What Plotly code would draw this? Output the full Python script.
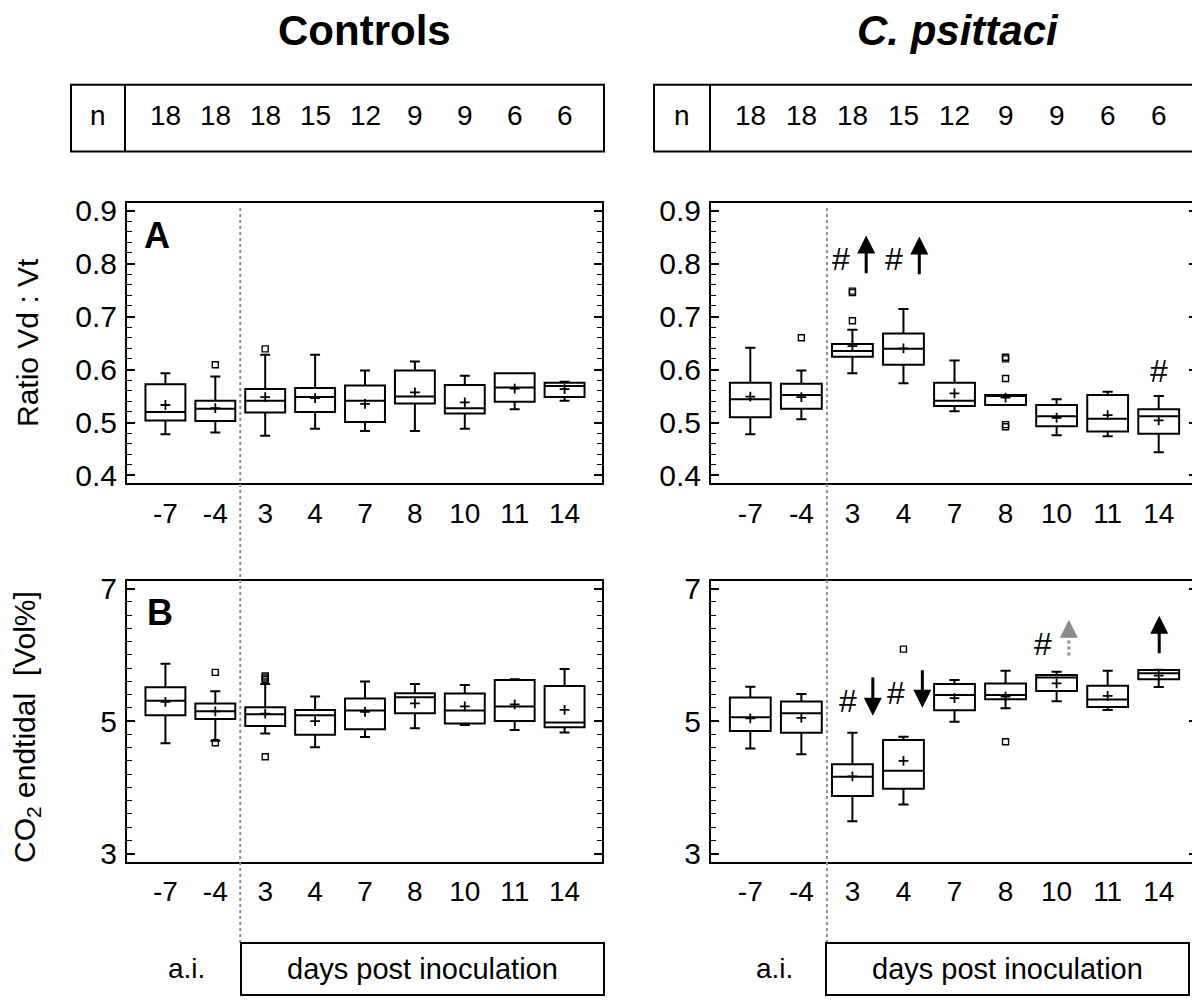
import plotly.graph_objects as go

# ------------------ data ------------------
cat_labels = ["-7", "-4", "3", "4", "7", "8", "10", "11", "14"]
n_ctrl = [18, 18, 18, 15, 12, 9, 9, 6, 6]
n_psit = [18, 18, 18, 15, 12, 9, 9, 6, 6]

# A: ratio Vd : Vt, controls
ctrl_vd_q1 = [0.504, 0.503, 0.519, 0.520, 0.501, 0.536, 0.517, 0.539, 0.548]
ctrl_vd_med = [0.520, 0.526, 0.541, 0.548, 0.541, 0.549, 0.527, 0.566, 0.569]
ctrl_vd_q3 = [0.572, 0.541, 0.563, 0.565, 0.570, 0.598, 0.571, 0.593, 0.575]
ctrl_vd_lo = [0.478, 0.481, 0.475, 0.488, 0.484, 0.484, 0.488, 0.525, 0.541]
ctrl_vd_hi = [0.593, 0.587, 0.628, 0.628, 0.598, 0.615, 0.588, 0.593, 0.577]
ctrl_vd_mean = [0.533, 0.527, 0.548, 0.546, 0.535, 0.557, 0.538, 0.564, 0.563]
ctrl_vd_out_x = [1, 2]
ctrl_vd_out_y = [0.609, 0.639]

# A: ratio Vd : Vt, C. psittaci
psit_vd_q1 = [0.510, 0.526, 0.624, 0.609, 0.531, 0.533, 0.493, 0.483, 0.479]
psit_vd_med = [0.544, 0.552, 0.635, 0.639, 0.541, 0.551, 0.512, 0.507, 0.512]
psit_vd_q3 = [0.575, 0.573, 0.648, 0.668, 0.575, 0.552, 0.533, 0.552, 0.525]
psit_vd_lo = [0.478, 0.506, 0.593, 0.574, 0.521, 0.533, 0.476, 0.474, 0.444]
psit_vd_hi = [0.641, 0.598, 0.675, 0.714, 0.617, 0.552, 0.544, 0.558, 0.550]
psit_vd_mean = [0.549, 0.548, 0.644, 0.640, 0.555, 0.547, 0.509, 0.514, 0.504]
psit_vd_out_x = [1, 2, 2, 2, 5, 5, 5, 5, 5]
psit_vd_out_y = [0.660, 0.748, 0.745, 0.692, 0.623, 0.620, 0.583, 0.496, 0.492]

# B: CO2 endtidal, controls
ctrl_co2_q1 = [5.089, 5.030, 4.926, 4.793, 4.877, 5.119, 4.965, 5.000, 4.906]
ctrl_co2_med = [5.306, 5.148, 5.104, 5.089, 5.158, 5.360, 5.158, 5.222, 4.980]
ctrl_co2_q3 = [5.509, 5.267, 5.207, 5.168, 5.341, 5.420, 5.415, 5.622, 5.528]
ctrl_co2_lo = [4.664, 4.704, 4.812, 4.605, 4.758, 4.891, 4.941, 4.867, 4.827]
ctrl_co2_hi = [5.864, 5.449, 5.558, 5.370, 5.598, 5.558, 5.543, 5.632, 5.785]
ctrl_co2_mean = [5.291, 5.148, 5.114, 5.000, 5.138, 5.267, 5.222, 5.252, 5.168]
ctrl_co2_out_x = [1, 1, 2, 2, 2, 2]
ctrl_co2_out_y = [5.736, 4.674, 5.681, 5.650, 5.625, 4.462]

# B: CO2 endtidal, C. psittaci
psit_co2_q1 = [4.852, 4.822, 3.869, 3.978, 5.163, 5.331, 5.454, 5.212, 5.632]
psit_co2_med = [5.059, 5.119, 4.160, 4.249, 5.395, 5.395, 5.657, 5.326, 5.721]
psit_co2_q3 = [5.356, 5.296, 4.348, 4.714, 5.558, 5.568, 5.696, 5.533, 5.770]
psit_co2_lo = [4.585, 4.501, 3.489, 3.741, 4.990, 5.193, 5.301, 5.168, 5.514]
psit_co2_hi = [5.519, 5.410, 4.822, 4.763, 5.622, 5.760, 5.746, 5.760, 5.775]
psit_co2_mean = [5.040, 5.049, 4.165, 4.398, 5.346, 5.370, 5.568, 5.380, 5.686]
psit_co2_out_x = [3, 5]
psit_co2_out_y = [6.086, 4.689]

# ------------------ layout helpers ------------------
# the page body has an 8px margin, so the figure is 8px smaller and every
# position below (given in window pixels) is shifted by that offset
OFF = 8
W, H = 1200 - OFF, 1007 - OFF
FONT = "Liberation Sans, Arial, Helvetica, sans-serif"
GRAY = "#8c8c8c"
pos = list(range(len(cat_labels)))


def px(x):
    return (x - OFF) / W


def py(y):
    return 1 - (y - OFF) / H


X_CTRL = [px(127), px(602)]
X_PSIT = [px(711), px(1197)]
Y_A = [py(483), py(197)]
Y_B = [py(868), py(582)]

fig = go.Figure()


def add_panel(ax, q1, med, q3, lo, hi, mean, out_x, out_y):
    xa, ya = "x" + ax, "y" + ax
    fig.add_trace(go.Box(
        x=pos, q1=q1, median=med, q3=q3, lowerfence=lo, upperfence=hi,
        width=0.8, whiskerwidth=0.25, boxpoints=False,
        line=dict(color="black", width=2), fillcolor="white",
        xaxis=xa, yaxis=ya, showlegend=False, hoverinfo="skip"
    ))
    fig.add_trace(go.Scatter(
        x=pos, y=mean, mode="markers", xaxis=xa, yaxis=ya, showlegend=False,
        marker=dict(symbol="cross-thin", size=7, line=dict(color="black", width=1.8))
    ))
    fig.add_trace(go.Scatter(
        x=out_x, y=out_y, mode="markers", xaxis=xa, yaxis=ya, showlegend=False,
        marker=dict(symbol="square-open", size=6, color="black", line=dict(color="black", width=1.4))
    ))


add_panel("", ctrl_vd_q1, ctrl_vd_med, ctrl_vd_q3, ctrl_vd_lo, ctrl_vd_hi, ctrl_vd_mean, ctrl_vd_out_x, ctrl_vd_out_y)
add_panel("2", psit_vd_q1, psit_vd_med, psit_vd_q3, psit_vd_lo, psit_vd_hi, psit_vd_mean, psit_vd_out_x, psit_vd_out_y)
add_panel("3", ctrl_co2_q1, ctrl_co2_med, ctrl_co2_q3, ctrl_co2_lo, ctrl_co2_hi, ctrl_co2_mean, ctrl_co2_out_x, ctrl_co2_out_y)
add_panel("4", psit_co2_q1, psit_co2_med, psit_co2_q3, psit_co2_lo, psit_co2_hi, psit_co2_mean, psit_co2_out_x, psit_co2_out_y)

xcommon = dict(range=[-0.77, 8.75], tickmode="array", tickvals=pos, ticktext=cat_labels,
               showline=True, mirror=True, linecolor="black", linewidth=2, ticks="",
               showgrid=False, zeroline=False, tickfont=dict(size=28), ticklabelstandoff=4)
ycommon = dict(showline=True, mirror="ticks", linecolor="black", linewidth=2,
               ticks="inside", ticklen=8, tickwidth=1.5, tickcolor="black",
               showgrid=False, zeroline=False, tickfont=dict(size=30), ticklabelstandoff=2)
ya_vd = dict(ycommon, range=[0.385, 0.915], tickmode="linear", tick0=0.4, dtick=0.1, tickformat=".1f",
             minor=dict(tick0=0.4, dtick=0.02, ticks="inside", ticklen=5, tickwidth=1.2, tickcolor="black"))
ya_co2 = dict(ycommon, range=[2.88, 7.12], tickmode="linear", tick0=3, dtick=2,
              minor=dict(tick0=3, dtick=0.2, ticks="inside", ticklen=5, tickwidth=1.2, tickcolor="black"))

fig.update_layout(
    width=W, height=H, autosize=False,
    margin=dict(l=0, r=0, t=0, b=0),
    paper_bgcolor="white", plot_bgcolor="white",
    font=dict(family=FONT, color="black", size=28),
    xaxis=dict(xcommon, domain=X_CTRL, anchor="y"),
    yaxis=dict(ya_vd, domain=Y_A, anchor="x"),
    xaxis2=dict(xcommon, domain=X_PSIT, anchor="y2"),
    yaxis2=dict(ya_vd, domain=Y_A, anchor="x2"),
    xaxis3=dict(xcommon, domain=X_CTRL, anchor="y3"),
    yaxis3=dict(ya_co2, domain=Y_B, anchor="x3"),
    xaxis4=dict(xcommon, domain=X_PSIT, anchor="y4"),
    yaxis4=dict(ya_co2, domain=Y_B, anchor="x4"),
)

ann = []
shapes = []


def label(text, x, y, size=28, xref="paper", yref="paper", **kw):
    ann.append(dict(text=text, x=x, y=y, xref=xref, yref=yref, showarrow=False,
                    xanchor="center", yanchor="middle", font=dict(size=size), **kw))


# titles
label("<b>Controls</b>", px(364), py(22), size=42)
label("<b><i>C. psittaci</i></b>", px(958), py(22), size=42)

# n boxes
for (x0, xs, x1, xref, counts) in [(71, 125, 604, "x", n_ctrl), (654, 710, 1197, "x2", n_psit)]:
    shapes.append(dict(type="rect", xref="paper", yref="paper", x0=px(x0), x1=px(x1),
                       y0=py(145), y1=py(77), line=dict(color="black", width=2)))
    shapes.append(dict(type="line", xref="paper", yref="paper", x0=px(xs), x1=px(xs),
                       y0=py(145), y1=py(77), line=dict(color="black", width=2)))
    label("n", px((x0 + xs) / 2), py(108))
    for i, c in enumerate(counts):
        label(str(c), i, py(108), xref=xref)

# axis titles
label("Ratio Vd : Vt", px(27), py(340), size=30, textangle=-90)
label("CO<sub>2</sub> endtidal\u00a0 [Vol%]", px(27), py(731), size=30, textangle=-90)

# panel letters
label("<b>A</b>", px(157), py(230), size=36)
label("<b>B</b>", px(160), py(614), size=36)

# divider between a.i. and p.i. days, and bottom label boxes
for (xref, ai_x, bx0, bx1) in [("x", 186, 241, 604), ("x2", 775, 826, 1189)]:
    shapes.append(dict(type="line", xref=xref, yref="paper", x0=1.5, x1=1.5,
                       y0=py(951), y1=py(201), line=dict(color=GRAY, width=2, dash="dot")))
    shapes.append(dict(type="rect", xref="paper", yref="paper", x0=px(bx0), x1=px(bx1),
                       y0=py(1004), y1=py(951), line=dict(color="black", width=2)))
    label("a.i.", px(ai_x), py(977))
    label("days post inoculation", px((bx0 + bx1) / 2), py(977), size=29)


def hash_mark(xref, yref, x, y):
    label("#", x, y, size=32, xref=xref, yref=yref)


def arrow(xref, yref, x, y0, y1, color="black"):
    ann.append(dict(text="", x=x, y=y1, ax=x, ay=y0, xref=xref, yref=yref, axref=xref, ayref=yref,
                    showarrow=True, arrowhead=2, arrowsize=1.2, arrowwidth=3, arrowcolor=color))


# significance markers, panel A (C. psittaci)
hash_mark("x2", "y2", 1.77, 0.808)
arrow("x2", "y2", 2.27, 0.779, 0.853)
hash_mark("x2", "y2", 2.81, 0.808)
arrow("x2", "y2", 3.31, 0.777, 0.851)
hash_mark("x2", "y2", 8.0, 0.597)

# significance markers, panel B (C. psittaci)
hash_mark("x4", "y4", 1.91, 5.30)
arrow("x4", "y4", 2.40, 5.68, 5.08)
hash_mark("x4", "y4", 2.86, 5.43)
arrow("x4", "y4", 3.37, 5.79, 5.20)
hash_mark("x4", "y4", 5.74, 6.17)
shapes.append(dict(type="line", xref="x4", yref="y4", x0=6.24, x1=6.24, y0=5.99, y1=6.31,
                   line=dict(color=GRAY, width=3, dash="dot")))
arrow("x4", "y4", 6.24, 6.29, 6.53, color=GRAY)
arrow("x4", "y4", 8.01, 6.0, 6.59)

fig.update_layout(annotations=ann, shapes=shapes)

fig.write_html("out.html")
